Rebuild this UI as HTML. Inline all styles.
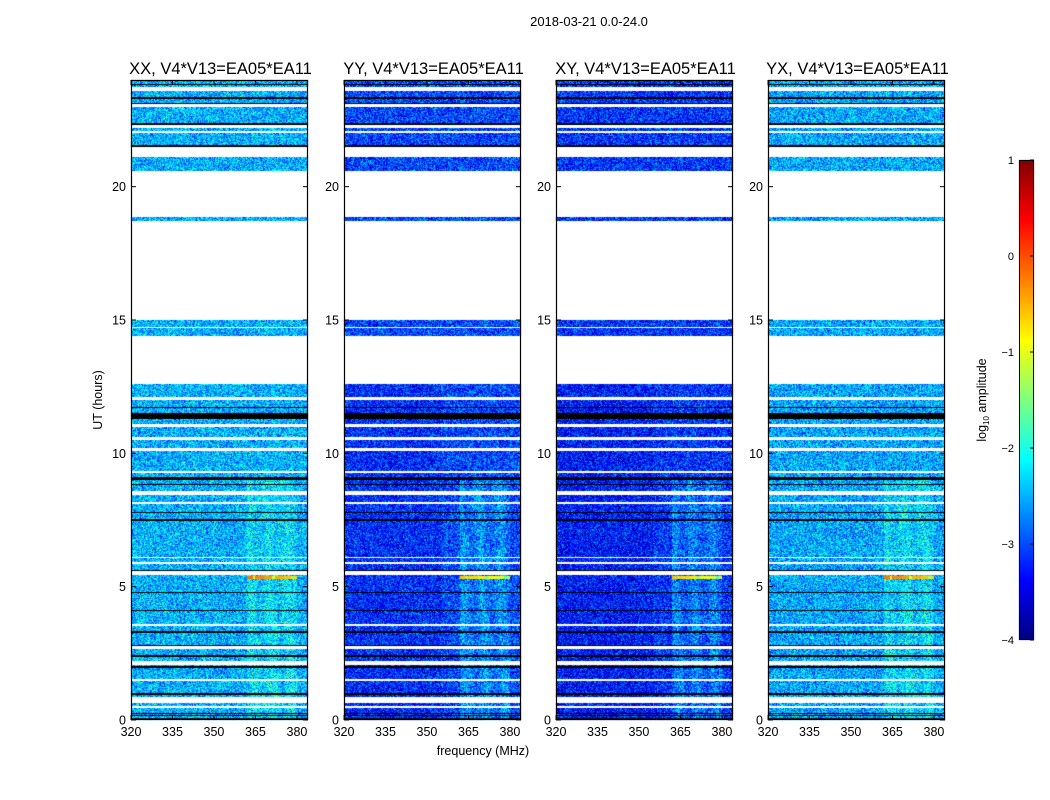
<!DOCTYPE html>
<html><head><meta charset="utf-8"><style>
body{margin:0;background:#fff;width:1050px;height:800px;overflow:hidden;font-family:"Liberation Sans",sans-serif}
#wrap{position:relative;width:1050px;height:800px}
canvas{position:absolute}
</style></head><body>
<div id="wrap">
<canvas id="c" width="1050" height="800"></canvas>
<svg id="s" width="1050" height="800" style="position:absolute;left:0;top:0"></svg>
</div>
<script>
// ---- data ----
const panelNames = ["XX","YY","XY","YX"];
const panelBase = [-2.5, -3.05, -3.15, -2.55];
const bandBoost = [0.3, 0.45, 0.45, 0.35];
const dataSegments = [[0,12.6],[14.4,15.0],[18.7,18.85],[20.6,21.1],[21.5,24.0]];
const whiteLines = [[0.45,0.53],[0.65,0.85],[1.46,1.54],[2.06,2.22],[2.68,2.8],[3.52,3.6],[5.45,5.6],[5.85,5.92],[6.07,6.13],[8.1,8.16],[8.42,8.6],[9.25,9.32],[10.1,10.2],[10.5,10.6],[11.0,11.1],[12.0,12.1],[14.7,14.75],[22.0,22.1],[22.2,22.32],[23.0,23.1],[23.6,23.72]];
const blackLines = [[0.05,0.09],[0.14,0.17],[0.24,0.28],[0.95,1.0],[1.96,2.01],[2.38,2.42],[2.79,2.83],[3.28,3.32],[4.1,4.14],[4.77,4.81],[5.6,5.64],[7.47,7.52],[7.77,7.81],[8.82,8.86],[9.0,9.12],[11.3,11.5],[11.7,11.75],[21.5,21.55],[22.32,22.4],[23.1,23.15],[23.3,23.35],[23.8,23.85]];
const rfiTime = [5.3, 5.4];
const rfiFreqs = [362, 382];
const rfiLevel = [-0.2, -0.3, -0.4, -0.5, -0.6, -0.7];
const freqTicks = [320,335,350,365,380];
const timeTicks = [0,5,10,15,20];
const cbTicks = [1,0,-1,-2,-3,-4];
// ---- layout ----
const panelX = [131,344,556,768], PW=177, PT=80, PB=720;
const fMin=320, fMax=384, tMin=0, tMax=24;
const fx=(f,i)=>panelX[i]+(f-fMin)/(fMax-fMin)*PW;
const ty=t=>PB-(t-tMin)/(tMax-tMin)*(PB-PT);
const CBX=1019,CBW=15,CBT=160,CBB=640;
const cby=v=>CBB-(v+4)/5*(CBB-CBT);
function clamp(x){return Math.max(0,Math.min(1,x));}
function jet(v){const t=clamp((v+4)/5);return [clamp(1.5-Math.abs(4*t-3)),clamp(1.5-Math.abs(4*t-2)),clamp(1.5-Math.abs(4*t-1))].map(c=>Math.round(c*255));}
function hash(a,b){let h=(a*374761393+b*668265263)|0;h=(h^(h>>>13))*1274126177|0;return ((h^(h>>>16))>>>0)/4294967296;}
const inAny=(t,arr)=>arr.some(r=>t>=r[0]&&t<r[1]);
const ctx=document.getElementById('c').getContext('2d');
ctx.fillStyle='#fff';ctx.fillRect(0,0,1050,800);
for(let i=0;i<4;i++){
  const img=ctx.createImageData(PW,PB-PT);
  for(let py=0;py<PB-PT;py++){
    const t=tMax-(py+0.5)/(PB-PT)*(tMax-tMin);
    const valid=inAny(t,dataSegments)&&!inAny(t,whiteLines);
    const black=inAny(t,blackLines);
    for(let px=0;px<PW;px++){
      const f=fMin+(px+0.5)/PW*(fMax-fMin);
      let c;
      if(black) c=[0,0,0];
      else if(!valid) c=[255,255,255];
      else{
        let v=panelBase[i]+(hash(px+i*1000,py)-0.5)*1.2+(hash(px*7+i,py*3+1)-0.5)*0.6;
        if(f>=rfiFreqs[0]&&f<=rfiFreqs[1]-2&&t<9) v+=bandBoost[i]*(0.7+0.3*Math.sin(f*0.9+t*0.3));
        if(f<355&&(i==1||i==2)&&t<12.6) v-=0.15;
        if(t>=rfiTime[0]&&t<rfiTime[1]&&f>=rfiFreqs[0]&&f<=rfiFreqs[1]-2){
          const k=Math.min(rfiLevel.length-1,Math.floor((f-rfiFreqs[0])/3.3));
          v=rfiLevel[k]-(i==1||i==2?0.4:0)+((Math.floor(f)%7==0)?-0.6:0);
        }
        c=jet(v);
      }
      const o=(py*PW+px)*4;img.data[o]=c[0];img.data[o+1]=c[1];img.data[o+2]=c[2];img.data[o+3]=255;
    }
  }
  ctx.putImageData(img,panelX[i],PT);
}
// colorbar
for(let y=CBT;y<CBB;y++){const c=jet(1-(y-CBT+0.5)/(CBB-CBT)*5);ctx.fillStyle=`rgb(${c})`;ctx.fillRect(CBX,y,CBW,1);}
// ---- svg overlay ----
const svg=document.getElementById('s');const NS='http://www.w3.org/2000/svg';
function el(tag,attrs,text){const e=document.createElementNS(NS,tag);for(const k in attrs)e.setAttribute(k,attrs[k]);if(text!==undefined)e.textContent=text;svg.appendChild(e);return e;}
let e=el('text',{x:589,y:26,'font-size':13,'text-anchor':'middle'},'2018-03-21 0.0-24.0');


for(let i=0;i<4;i++){
  e=el('text',{x:panelX[i]+PW/2+1,y:74,'font-size':16.5,'text-anchor':'middle'},panelNames[i]+', V4*V13=EA05*EA11');
  
  
  e=el('rect',{x:panelX[i]+0.5,y:PT+0.5,width:PW-1,height:PB-PT-1,fill:'none',stroke:'#000','stroke-width':1.2});
  
  
  freqTicks.forEach(f=>{const x=fx(f,i);
    el('line',{x1:x,x2:x,y1:PB,y2:PB-5,stroke:'#000'});el('line',{x1:x,x2:x,y1:PT,y2:PT+5,stroke:'#000'});
    e=el('text',{x:x,y:PB+16,'font-size':12.5,'text-anchor':'middle'},f);
    
    });
  timeTicks.forEach(t=>{const y=ty(t);
    el('line',{x1:panelX[i],x2:panelX[i]+5,y1:y,y2:y,stroke:'#000'});el('line',{x1:panelX[i]+PW-5,x2:panelX[i]+PW,y1:y,y2:y,stroke:'#000'});
    e=el('text',{x:panelX[i]-5,y:y+4.5,'font-size':12.5,'text-anchor':'end'},t);
    
    });
}
e=el('text',{x:0,y:0,'font-size':12.5,'text-anchor':'middle',transform:'translate(102,400) rotate(-90)'},'UT (hours)');


e=el('text',{x:483,y:755,'font-size':12.5,'text-anchor':'middle'},'frequency (MHz)');


e=el('rect',{x:CBX+0.5,y:CBT+0.5,width:CBW-1,height:CBB-CBT-1,fill:'none',stroke:'#000'});


cbTicks.forEach(v=>{const y=cby(v);
  el('line',{x1:CBX+CBW-4,x2:CBX+CBW,y1:y,y2:y,stroke:'#000'});
  e=el('text',{x:CBX-5,y:y+4,'font-size':11,'text-anchor':'end'},v<0?'\u2212'+(-v):v);
  
  });
e=el('text',{x:0,y:0,'font-size':12.5,'text-anchor':'middle',transform:'translate(986,400) rotate(-90)'});
e.innerHTML='log<tspan font-size="8" dy="3">10</tspan><tspan dy="-3"> amplitude</tspan>';


</script>
</body></html>
